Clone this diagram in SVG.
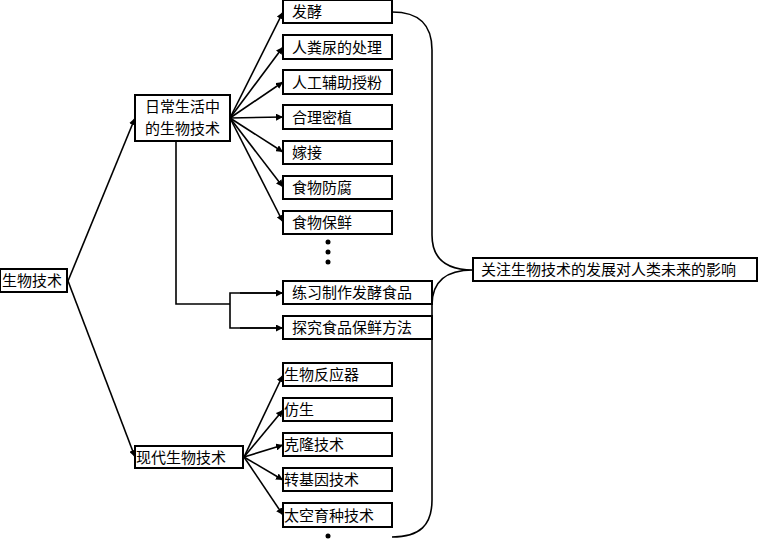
<svg xmlns="http://www.w3.org/2000/svg" width="758" height="540" viewBox="0 0 758 540">
<style>
rect{fill:#fff;stroke:#000;stroke-width:2}
text{font-family:"Liberation Serif","Noto Sans CJK SC",serif;font-size:15px;fill:#000}
.c path,.c line,.c polyline{fill:none;stroke:#000;stroke-width:1.6}
</style>
<defs><marker id="a" viewBox="0 0 10 10" refX="10" refY="5" markerWidth="7" markerHeight="7" orient="auto" markerUnits="userSpaceOnUse"><path d="M0,0L10,5L0,10z" fill="#000"/></marker></defs>
<rect width="758" height="540" fill="#fff" style="stroke:none"/>
<g class="c">
<line x1="68" y1="281" x2="135" y2="118" marker-end="url(#a)"/>
<line x1="68" y1="281" x2="135" y2="457" marker-end="url(#a)"/>
<line x1="230" y1="118" x2="283" y2="12" marker-end="url(#a)"/>
<line x1="230" y1="118" x2="283" y2="47" marker-end="url(#a)"/>
<line x1="230" y1="118" x2="283" y2="82" marker-end="url(#a)"/>
<line x1="230" y1="118" x2="283" y2="117" marker-end="url(#a)"/>
<line x1="230" y1="118" x2="283" y2="152" marker-end="url(#a)"/>
<line x1="230" y1="118" x2="283" y2="187" marker-end="url(#a)"/>
<line x1="230" y1="118" x2="283" y2="222" marker-end="url(#a)"/>
<polyline points="176,141 176,304 230,304"/>
<polyline points="283,293 230,293 230,328 283,328"/>
<line x1="240" y1="293" x2="283" y2="293" marker-end="url(#a)"/>
<line x1="240" y1="328" x2="283" y2="328" marker-end="url(#a)"/>
<line x1="244" y1="457" x2="283" y2="375" marker-end="url(#a)"/>
<line x1="244" y1="457" x2="283" y2="410" marker-end="url(#a)"/>
<line x1="244" y1="457" x2="283" y2="445" marker-end="url(#a)"/>
<line x1="244" y1="457" x2="283" y2="480" marker-end="url(#a)"/>
<line x1="244" y1="457" x2="283" y2="515" marker-end="url(#a)"/>
<path d="M392,12 C420,12 432,25 432,50 L432,235 C432,262 450,270 473,270 C450,270 432,278 432,305 L432,500 C432,525 420,537 392,537"/>
</g>
<g fill="#000"><circle cx="328" cy="242" r="2.5"/><circle cx="328" cy="252" r="2.5"/><circle cx="328" cy="262" r="2.5"/><circle cx="328" cy="536" r="2.5"/></g>
<g id="n0"><rect x="0" y="269" width="67" height="23"/><text x="2" y="286">生物技术</text></g>
<g id="n1"><rect x="135" y="95" width="95" height="46"/><text x="145" y="112">日常生活中</text><text x="145" y="134">的生物技术</text></g>
<g id="n2"><rect x="135" y="446" width="108" height="22"/><text x="136" y="463">现代生物技术</text></g>
<g id="b1"><rect x="283" y="0" width="109" height="23"/><text x="292" y="17">发酵</text></g>
<g id="b2"><rect x="283" y="35" width="109" height="24"/><text x="292" y="53">人粪尿的处理</text></g>
<g id="b3"><rect x="283" y="70" width="109" height="24"/><text x="292" y="88">人工辅助授粉</text></g>
<g id="b4"><rect x="283" y="105" width="109" height="24"/><text x="292" y="123">合理密植</text></g>
<g id="b5"><rect x="283" y="141" width="109" height="23"/><text x="292" y="158">嫁接</text></g>
<g id="b6"><rect x="283" y="176" width="109" height="23"/><text x="292" y="193">食物防腐</text></g>
<g id="b7"><rect x="283" y="211" width="109" height="23"/><text x="292" y="228">食物保鲜</text></g>
<g id="b8"><rect x="283" y="281" width="149" height="23"/><text x="292" y="298">练习制作发酵食品</text></g>
<g id="b9"><rect x="283" y="316" width="149" height="23"/><text x="292" y="333">探究食品保鲜方法</text></g>
<g id="m1"><rect x="283" y="363" width="109" height="23"/><text x="284" y="380">生物反应器</text></g>
<g id="m2"><rect x="283" y="398" width="109" height="23"/><text x="284" y="415">仿生</text></g>
<g id="m3"><rect x="283" y="433" width="109" height="23"/><text x="284" y="450">克隆技术</text></g>
<g id="m4"><rect x="283" y="468" width="109" height="23"/><text x="284" y="485">转基因技术</text></g>
<g id="m5"><rect x="283" y="503" width="109" height="24"/><text x="284" y="521">太空育种技术</text></g>
<g id="r"><rect x="473" y="258" width="284" height="23"/><text x="481" y="275">关注生物技术的发展对人类未来的影响</text></g>
</svg>
